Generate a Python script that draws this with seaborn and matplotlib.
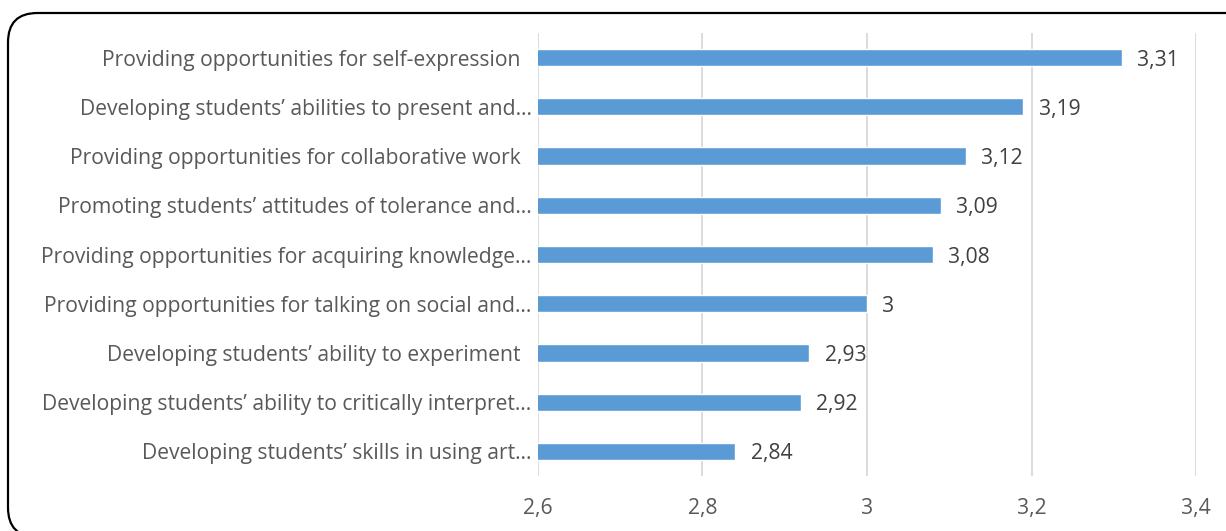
import matplotlib
matplotlib.use("Agg")
import matplotlib.pyplot as plt
from matplotlib.patches import FancyBboxPatch
import seaborn as sns
import pandas as pd

categories = [
    "Providing opportunities for self-expression  ",
    "Developing students\u2019 abilities to present and\u2026",
    "Providing opportunities for collaborative work  ",
    "Promoting students\u2019 attitudes of tolerance and\u2026",
    "Providing opportunities for acquiring knowledge\u2026",
    "Providing opportunities for talking on social and\u2026",
    "Developing students\u2019 ability to experiment  ",
    "Developing students\u2019 ability to critically interpret\u2026",
    "Developing students\u2019 skills in using art\u2026",
]
values = [3.31, 3.19, 3.12, 3.09, 3.08, 3.00, 2.93, 2.92, 2.84]
xticks = [2.6, 2.8, 3.0, 3.2, 3.4]

def fmt(v):
    s = f"{v:.2f}".rstrip("0").rstrip(".")
    return s.replace(".", ",")

df = pd.DataFrame({"category": categories, "value": values})

sns.set_theme(style="white")
plt.rcParams["font.family"] = ["Open Sans", "DejaVu Sans"]

FS = 15.2
W, H = 1226, 531
fig = plt.figure(figsize=(W / 100, H / 100), dpi=100)
ax = fig.add_axes([538 / W, 55 / H, (1196 - 538) / W, (498 - 55) / H])

sns.barplot(data=df, x="value", y="category", orient="h", color="#5B9BD5",
            saturation=1, width=0.35, ax=ax, zorder=3)

ax.set_xlim(2.6, 3.4)
ax.set_ylim(8.5, -0.5)
ax.set_xticks(xticks)
ax.set_xticklabels([fmt(t) for t in xticks], fontsize=FS, color="#595959")
ax.tick_params(axis="x", length=0, pad=16)
ax.tick_params(axis="y", length=0, pad=4.5)
for lab in ax.get_yticklabels():
    lab.set_fontsize(FS)
    lab.set_color("#595959")
ax.set_xlabel("")
ax.set_ylabel("")
ax.grid(axis="x", color="#D9D9D9", linewidth=1.3, zorder=0)
ax.set_axisbelow(True)
for s in ax.spines.values():
    s.set_visible(False)

for i, v in enumerate(values):
    ax.annotate(fmt(v), xy=(v, i), xytext=(11, 0), textcoords="offset points",
                va="center_baseline", ha="left", fontsize=FS, color="#404040")

# rounded frame around the chart, running off the right and bottom edges
border = FancyBboxPatch((8 / W, -6 / H), 1250 / W, (518 + 6) / H,
                        boxstyle="round,pad=0,rounding_size=0.024",
                        transform=fig.transFigure, fill=False,
                        edgecolor="black", linewidth=1.6, mutation_aspect=W / H)
fig.patches.append(border)

fig.savefig("out.png", dpi=100)
